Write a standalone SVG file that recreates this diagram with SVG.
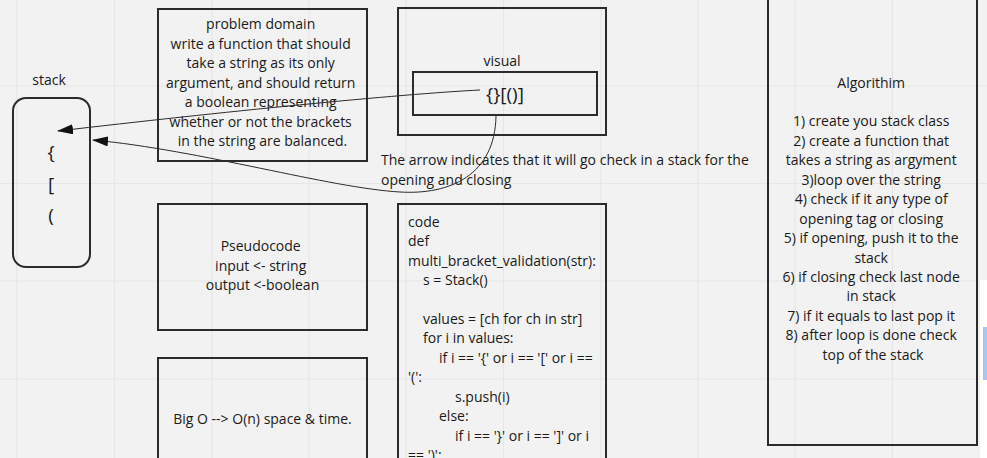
<svg xmlns="http://www.w3.org/2000/svg" width="987" height="458" viewBox="0 0 987 458">
<style>
.box{fill:none;stroke:#2b2b2b;stroke-width:2}
.t{font-family:"Open Sans","Liberation Sans",sans-serif;font-size:14px;fill:#1a1a1a}
.c{text-anchor:middle}
.big{font-size:19px}
.grid{stroke:#e6e6e6;stroke-width:1.2}
.conn{fill:none;stroke:#2b2b2b;stroke-width:1}
</style>
<defs>
<marker id="ah" viewBox="0 0 16 10" refX="15" refY="5" markerWidth="16" markerHeight="10" markerUnits="userSpaceOnUse" orient="auto">
<path d="M0,0 L16,5 L0,10 Z" fill="#111"/>
</marker>
</defs>
<rect width="987" height="458" fill="#f2f2f2"/>
<g id="grid">
<line class="grid" x1="17" y1="0" x2="17" y2="458"/>
<line class="grid" x1="114.5" y1="0" x2="114.5" y2="458"/>
<line class="grid" x1="212" y1="0" x2="212" y2="458"/>
<line class="grid" x1="309" y1="0" x2="309" y2="458"/>
<line class="grid" x1="406" y1="0" x2="406" y2="458"/>
<line class="grid" x1="503.5" y1="0" x2="503.5" y2="458"/>
<line class="grid" x1="601" y1="0" x2="601" y2="458"/>
<line class="grid" x1="698" y1="0" x2="698" y2="458"/>
<line class="grid" x1="795" y1="0" x2="795" y2="458"/>
<line class="grid" x1="892.5" y1="0" x2="892.5" y2="458"/>
<line class="grid" x1="0" y1="86" x2="987" y2="86"/>
<line class="grid" x1="0" y1="183.5" x2="987" y2="183.5"/>
<line class="grid" x1="0" y1="281" x2="987" y2="281"/>
<line class="grid" x1="0" y1="379" x2="987" y2="379"/>
</g>

<g id="stack">
<text class="t c" x="49" y="85">stack</text>
<rect class="box" x="13" y="98" width="77" height="169" rx="13"/>
<text class="t c big" x="51" y="159">{</text>
<text class="t c big" x="51" y="191">[</text>
<text class="t c big" x="51" y="222">(</text>
</g>

<g id="problem-domain">
<rect class="box" x="158" y="9" width="209" height="152"/>
<text class="t c" x="262.5">
<tspan x="262.5" y="29">problem domain</tspan>
<tspan x="262.5" y="48.5">write a function that should</tspan>
<tspan x="262.5" y="68">take a string as its only</tspan>
<tspan x="262.5" y="87.5">argument, and should return</tspan>
<tspan x="262.5" y="107">a boolean representing</tspan>
<tspan x="262.5" y="126.5">whether or not the brackets</tspan>
<tspan x="262.5" y="146">in the string are balanced.</tspan>
</text>
</g>

<g id="visual">
<rect class="box" x="398" y="8" width="208" height="127"/>
<text class="t c" x="502" y="66">visual</text>
<rect class="box" x="413" y="72" width="184" height="43"/>
<text class="t c big" x="505" y="101">{}[()]</text>
</g>

<g id="caption">
<text class="t">
<tspan x="381" y="165">The arrow indicates that it will go check in a stack for the</tspan>
<tspan x="381" y="185">opening and closing</tspan>
</text>
</g>

<g id="pseudocode">
<rect class="box" x="158" y="204" width="209" height="126"/>
<text class="t c">
<tspan x="262.5" y="251">Pseudocode</tspan>
<tspan x="262.5" y="271">input &lt;- string</tspan>
<tspan x="262.5" y="290">output &lt;-boolean</tspan>
</text>
</g>

<g id="big-o">
<rect class="box" x="158" y="358" width="209" height="110"/>
<text class="t c" x="262.5" y="424">Big O --&gt; O(n) space &amp; time.</text>
</g>

<g id="code">
<rect class="box" x="398" y="204" width="208" height="264"/>
<text class="t">
<tspan x="408" y="227">code</tspan>
<tspan x="408" y="246">def</tspan>
<tspan x="408" y="266">multi_bracket_validation(str):</tspan>
<tspan x="423" y="285">s = Stack()</tspan>
<tspan x="423" y="324">values = [ch for ch in str]</tspan>
<tspan x="423" y="343">for i in values:</tspan>
<tspan x="439" y="363">if i == '{' or i == '[' or i ==</tspan>
<tspan x="408" y="382">'(':</tspan>
<tspan x="455" y="402">s.push(i)</tspan>
<tspan x="439" y="421">else:</tspan>
<tspan x="455" y="441">if i == '}' or i == ']' or i</tspan>
<tspan x="408" y="460">== ')':</tspan>
</text>
</g>

<g id="algorithm">
<rect class="box" x="768" y="-10" width="209" height="455"/>
<text class="t c">
<tspan x="873" y="88">Algorithim</tspan>
<tspan x="873" y="126">1) create you stack class</tspan>
<tspan x="873" y="146">2) create a function that</tspan>
<tspan x="873" y="165">takes a string as argyment</tspan>
<tspan x="873" y="185">3)loop over the string</tspan>
<tspan x="873" y="204">4) check if it any type of</tspan>
<tspan x="873" y="224">opening tag or closing</tspan>
<tspan x="873" y="243">5) if opening, push it to the</tspan>
<tspan x="873" y="263">stack</tspan>
<tspan x="873" y="282">6) if  closing check last node</tspan>
<tspan x="873" y="301">in stack</tspan>
<tspan x="873" y="321">7) if it equals to last pop it</tspan>
<tspan x="873" y="340">8) after loop is done check</tspan>
<tspan x="873" y="360">top of the stack</tspan>
</text>
</g>

<g id="connectors">
<path class="conn" d="M480,90 C400,94 220,112 58,131" marker-end="url(#ah)"/>
<path class="conn" d="M496,116 C495,175 450,195 400,192 C330,188 200,150 93,140" marker-end="url(#ah)"/>
</g>

<g id="ui-edge">
<rect x="980" y="280" width="7" height="178" fill="#ffffff"/>
<rect x="983" y="327" width="4" height="53" fill="#a7c7f7"/>
</g>
</svg>
